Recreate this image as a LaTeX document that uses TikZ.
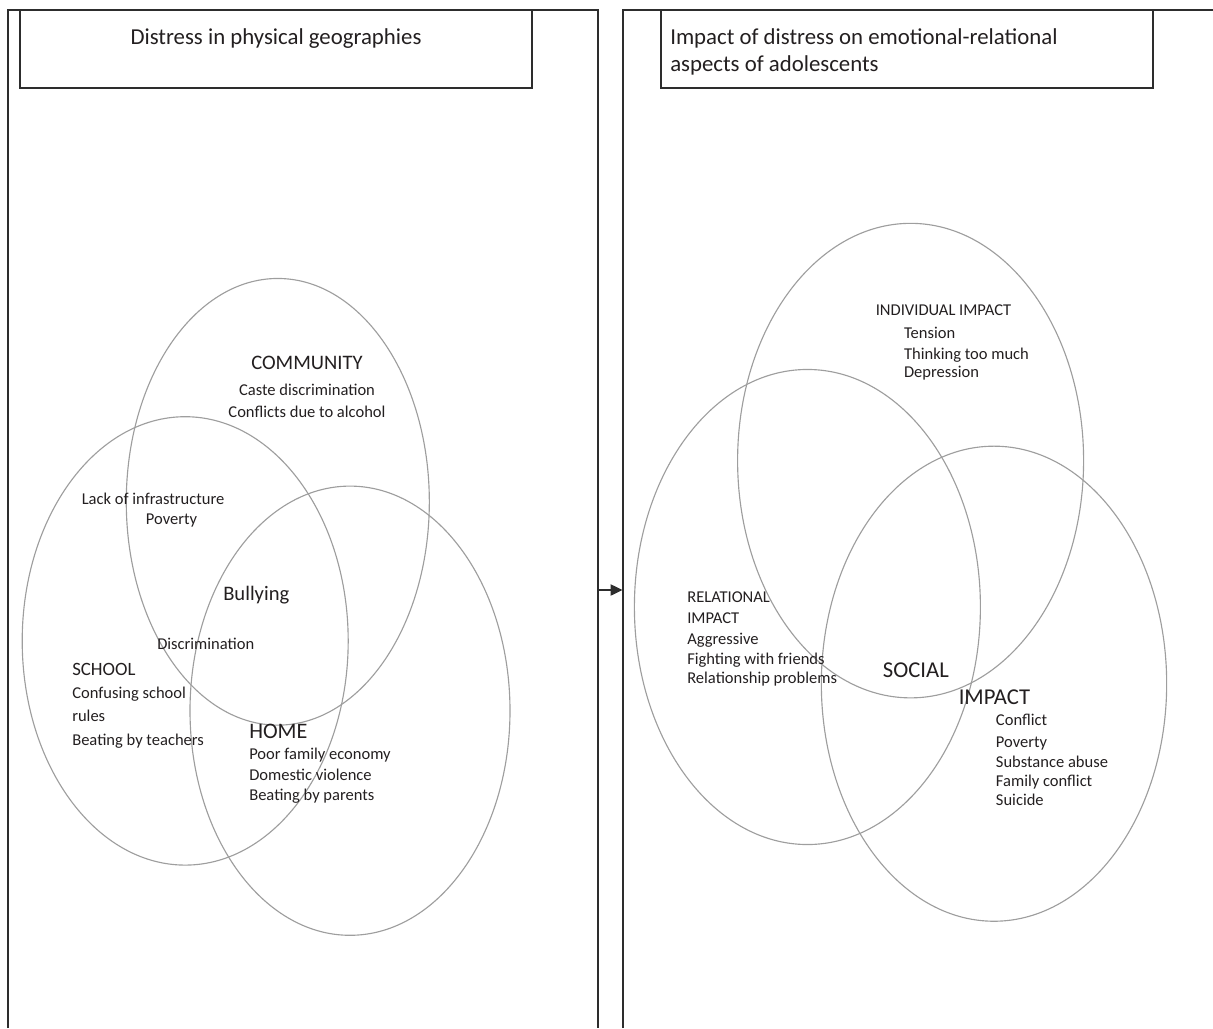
\documentclass[tikz,border=0pt]{standalone}
\usepackage{fontspec}
\setmainfont{Carlito}
\usetikzlibrary{shapes.geometric,arrows.meta}
\definecolor{ink}{RGB}{35,31,32}
\definecolor{frame}{RGB}{45,45,45}
\definecolor{ring}{RGB}{158,158,158}
\tikzset{
  venn/.style={ellipse, draw=ring, line width=0.85pt, inner sep=0pt},
  txt/.style={inner sep=0pt, text=ink, font=\fontsize{12.4}{14}\selectfont},
  lt/.style={txt, anchor=base west},
  ct/.style={txt, anchor=base},
  big/.style={font=\fontsize{#1}{#1}\selectfont},
  framed/.style={draw=frame, line width=1pt},
  arr/.style={draw=frame, line width=1pt, -{Triangle[length=9pt,width=8.5pt]}}
}
\begin{document}
\begin{tikzpicture}[x=0.75pt,y=-0.75pt]
\useasboundingbox (0,0) rectangle (1213,1028);
% panels
\draw[framed] (8,1028) -- (8,10) -- (598,10) -- (598,1028);
\draw[framed] (623,1028) -- (623,10) -- (1213,10);
% header boxes
\draw[framed] (20,10) rectangle (532,88);
\draw[framed] (661,10) rectangle (1153,88);
\node[ct, big=17.1] (h1) at (276,44) {Distress in physical geographies};
\node[lt, big=17.1] (h2a) at (670,44) {Impact of distress on emotional-relational};
\node[lt, big=17.1] (h2b) at (670,71) {aspects of adolescents};
% left Venn
\node[venn, minimum width=227.3pt, minimum height=335pt] (community) at (277.8,501.8) {};
\node[venn, minimum width=244.5pt, minimum height=336.3pt] (school) at (185.2,640.9) {};
\node[venn, minimum width=240pt, minimum height=336.9pt] (home) at (350,710.7) {};
% left texts
\node[ct, big=15.45] (t1) at (307,369.5) {COMMUNITY};
\node[ct] (t2) at (307,395) {Caste discrimination};
\node[ct] (t3) at (307,417.5) {Conflicts due to alcohol};
\node[lt] (t4) at (81.5,504) {Lack of infrastructure};
\node[ct] (t5) at (171.5,524) {Poverty};
\node[lt, big=15.45] (t6) at (223,600) {Bullying};
\node[lt] (t7) at (157,649.5) {Discrimination};
\node[lt, big=14.1] (t8) at (72,675) {SCHOOL};
\node[lt] (t9) at (72,698.5) {Confusing school};
\node[lt] (t10) at (72,721.7) {rules};
\node[lt] (t11) at (72,745.5) {Beating by teachers};
\node[lt, big=16.6] (t12) at (249,738.5) {HOME};
\node[lt] (t13) at (249,759.8) {Poor family economy};
\node[lt] (t14) at (249,780) {Domestic violence};
\node[lt] (t15) at (249,800.5) {Beating by parents};
% right Venn
\node[venn, minimum width=259.5pt, minimum height=355.9pt] (individual) at (910.6,460.6) {};
\node[venn, minimum width=259.5pt, minimum height=356.3pt] (relational) at (807.4,607) {};
\node[venn, minimum width=259pt, minimum height=356.3pt] (social) at (994,683.7) {};
% right texts
\node[lt] (r1) at (875.5,315) {INDIVIDUAL IMPACT};
\node[lt] (r2) at (903.8,338.6) {Tension};
\node[lt] (r3) at (903.8,359) {Thinking too much};
\node[lt] (r4) at (903.8,377.5) {Depression};
\node[lt] (r5) at (687,602.8) {RELATIONAL};
\node[lt] (r6) at (687,623) {IMPACT};
\node[lt] (r7) at (687,644) {Aggressive};
\node[lt] (r8) at (687,664) {Fighting with friends};
\node[lt] (r9) at (687,683.8) {Relationship problems};
\node[lt, big=17] (r10) at (882.7,677.5) {SOCIAL};
\node[lt, big=17] (r11) at (958.5,704) {IMPACT};
\node[lt] (r12) at (995.7,725.7) {Conflict};
\node[lt] (r13) at (995.7,747) {Poverty};
\node[lt] (r14) at (995.7,767) {Substance abuse};
\node[lt] (r15) at (995.7,786) {Family conflict};
\node[lt] (r16) at (995.7,805.8) {Suicide};
% connector
\coordinate (lpanel) at (598,590);
\coordinate (rpanel) at (622.5,590);
\draw[arr] (lpanel) -- (rpanel);
\end{tikzpicture}
\end{document}
